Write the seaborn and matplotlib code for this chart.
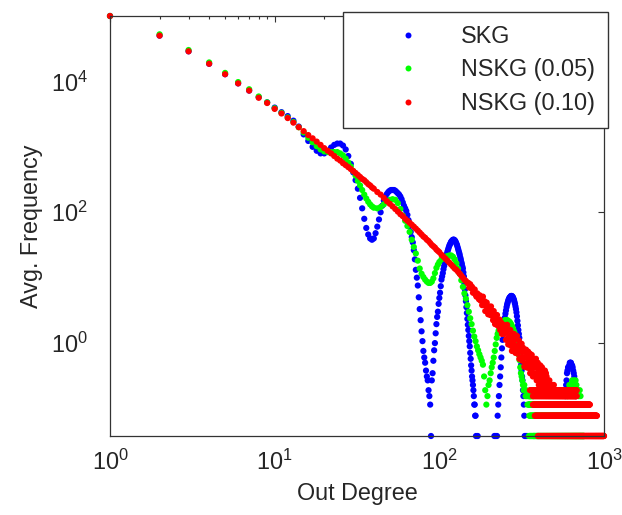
import numpy as np
import pandas as pd
import matplotlib
matplotlib.use("Agg")
import matplotlib.pyplot as plt
import seaborn as sns
from matplotlib.lines import Line2D
from matplotlib.ticker import FixedLocator, LogLocator, NullLocator, NullFormatter, LogFormatterSciNotation

# ---------------- data (degree, log10 of avg. frequency) ----------------
series_names = ["SKG", "NSKG (0.05)", "NSKG (0.10)"]
series_colors = ["#0000ff", "#00ff00", "#ff0000"]

# SKG
skg_deg = (list(range(1, 168)) + [171, 216, 220] + list(range(224, 331, 2)) + [335, 341]
           + [580, 583, 586, 589, 592, 596, 600, 605, 610, 615, 620, 625, 630,
              635, 640, 645, 650, 655, 660, 664, 668, 671, 674, 678, 683])
skg_log = [
    5.00, 4.70, 4.46, 4.27, 4.11, 3.97, 3.86, 3.76, 3.68, 3.60,
    3.53, 3.47, 3.40, 3.31, 3.19, 3.09, 3.00, 2.94, 2.90, 2.90,
    2.94, 2.99, 3.03, 3.05, 3.05, 3.02, 2.96, 2.86, 2.74, 2.61,
    2.49, 2.36, 2.22, 2.06, 1.90, 1.76, 1.66, 1.60, 1.58, 1.60,
    1.68, 1.78, 1.89, 2.00, 2.10, 2.18, 2.24, 2.28, 2.31, 2.33,
    2.34, 2.34, 2.34, 2.33, 2.31, 2.29, 2.27, 2.24, 2.20, 2.15,
    2.10, 2.06, 2.02, 1.96, 1.88, 1.79, 1.70, 1.62, 1.54, 1.42,
    1.28, 1.12, 1.00, 0.88, 0.70, 0.52, 0.35, 0.18, 0.03, -0.12,
    -0.22, -0.30, -0.42, -0.51, -0.57, -0.72, -0.81, -0.94, -1.42, -0.57,
    -0.46, -0.27, -0.11, 0.00, 0.15, 0.29, 0.40, 0.48, 0.60, 0.69,
    0.77, 0.87, 0.97, 1.02, 1.07, 1.13, 1.18, 1.23, 1.27, 1.32,
    1.36, 1.40, 1.43, 1.46, 1.49, 1.51, 1.53, 1.55, 1.56, 1.57,
    1.58, 1.58, 1.58, 1.57, 1.56, 1.54, 1.52, 1.50, 1.47, 1.44,
    1.41, 1.38, 1.35, 1.31, 1.28, 1.24, 1.21, 1.17, 1.14, 1.08,
    1.02, 0.92, 0.82, 0.73, 0.64, 0.55, 0.46, 0.37, 0.28, 0.20,
    0.11, 0.03, -0.05, -0.15, -0.24, -0.34, -0.42, -0.51, -0.57, -0.64,
    -0.72, -0.81, -0.94, -0.94, -1.11, -1.11, -1.42,
    -1.42, -1.42, -1.42,
    -1.42, -1.11, -0.94, -0.81, -0.64, -0.51, -0.37, -0.22, -0.08, 0.05,
    0.15, 0.24, 0.32, 0.39, 0.45, 0.50, 0.55, 0.59, 0.62, 0.65,
    0.67, 0.69, 0.70, 0.71, 0.72, 0.72, 0.72, 0.71, 0.70, 0.68,
    0.66, 0.63, 0.60, 0.56, 0.52, 0.47, 0.41, 0.34, 0.27, 0.20,
    0.14, 0.08, 0.00, -0.12, -0.24, -0.33, -0.42, -0.51, -0.57, -0.72,
    -0.81, -0.94, -1.11, -1.42,
    -1.42, -1.42,
    -0.94, -0.81, -0.72, -0.64, -0.57, -0.46, -0.42, -0.37, -0.37, -0.34,
    -0.30, -0.30, -0.30, -0.34, -0.34, -0.37, -0.42, -0.46, -0.51, -0.57,
    -0.64, -0.72, -0.81, -0.94, -1.11,
]

# NSKG (0.05)
nskg05_deg = (list(range(1, 41)) + list(range(42, 101, 2)) + list(range(103, 398, 3))
              + [600, 608, 616, 624, 632, 640, 648, 656, 664, 672, 680, 688, 696, 704, 712, 720])
nskg05_log = [
    5.00, 4.72, 4.48, 4.29, 4.13, 3.99, 3.88, 3.77, 3.68, 3.59,
    3.52, 3.45, 3.38, 3.30, 3.22, 3.14, 3.07, 3.01, 2.96, 2.93,
    2.92, 2.92, 2.92, 2.92, 2.90, 2.87, 2.82, 2.76, 2.70, 2.63,
    2.56, 2.48, 2.41, 2.34, 2.27, 2.21, 2.16, 2.12, 2.09, 2.07,
    2.06, 2.08, 2.12, 2.16, 2.19, 2.20, 2.19, 2.14, 2.05, 1.95,
    1.87, 1.79, 1.70, 1.58, 1.47, 1.37, 1.26, 1.14, 1.06, 1.01,
    0.97, 0.94, 0.92, 0.92, 0.94, 0.99, 1.07, 1.15, 1.20, 1.24,
    1.28, 1.30, 1.32, 1.33, 1.34, 1.34, 1.32, 1.28, 1.22, 1.14,
    1.06, 0.96, 0.86, 0.76, 0.68, 0.58, 0.48, 0.38, 0.29, 0.19,
    0.10, 0.03, -0.05, -0.11, -0.17, -0.22, -0.27, -0.33, -0.51, -0.72,
    -0.94, -0.81, -0.64, -0.57, -0.46, -0.37, -0.30, -0.22, -0.12, -0.02,
    0.08, 0.14, 0.19, 0.23, 0.26, 0.29, 0.31, 0.32, 0.34, 0.35,
    0.35, 0.35, 0.35, 0.34, 0.33, 0.32, 0.30, 0.28, 0.25, 0.22,
    0.19, 0.16, 0.12, 0.09, 0.04, -0.03, -0.10, -0.18, -0.26, -0.37,
    -0.46, -0.51, -0.57, -0.64, -0.72, -0.64, -0.72, -0.81, -0.72, -0.81,
    -0.94, -0.81, -0.94, -0.81, -0.94, -0.81, -1.11, -0.94, -1.11, -0.94,
    -1.42, -1.11, -1.42, -0.94, -1.11, -1.42, -1.11, -1.42, -1.42,
    -0.81, -0.72, -0.64, -0.72, -0.64, -0.57, -0.64, -0.57, -0.64, -0.57,
    -0.64, -0.72, -0.72, -0.81, -0.72, -0.81,
]
# flat rows of the sparse tail: (log10 level, first degree, last degree)
nskg05_rows = [(-1.42, 350, 760), (-1.11, 352, 720), (-0.94, 350, 700), (-0.81, 350, 372)]

# NSKG (0.10)
nskg10_deg = (list(range(1, 41)) + list(range(42, 101, 2)) + list(range(103, 149, 3))
              + list(range(150, 501, 2)))
nskg10_log = [
    5.00, 4.70, 4.46, 4.27, 4.11, 3.97, 3.86, 3.75, 3.67, 3.58,
    3.51, 3.44, 3.37, 3.30, 3.24, 3.18, 3.13, 3.08, 3.03, 2.98,
    2.94, 2.90, 2.86, 2.82, 2.79, 2.75, 2.72, 2.69, 2.66, 2.63,
    2.60, 2.57, 2.54, 2.51, 2.49, 2.46, 2.43, 2.41, 2.38, 2.36,
    2.31, 2.27, 2.22, 2.17, 2.13, 2.09, 2.05, 2.01, 1.97, 1.94,
    1.90, 1.87, 1.84, 1.81, 1.78, 1.75, 1.72, 1.69, 1.66, 1.63,
    1.61, 1.58, 1.56, 1.53, 1.50, 1.48, 1.46, 1.43, 1.41, 1.39,
    1.35, 1.32, 1.29, 1.26, 1.23, 1.20, 1.17, 1.14, 1.12, 1.09,
    1.06, 1.03, 1.00, 0.97, 0.95, 0.92,
    0.92, 0.85, 0.90, 0.84, 0.86, 0.77, 0.81, 0.82, 0.74, 0.71,
    0.76, 0.72, 0.67, 0.73, 0.65, 0.67,
    0.58, 0.71, 0.59, 0.64, 0.49, 0.57, 0.62, 0.49, 0.44, 0.56,
    0.51, 0.43, 0.56, 0.42, 0.48, 0.35, 0.49, 0.39, 0.29, 0.42,
    0.36, 0.43, 0.27, 0.35, 0.26, 0.36, 0.20, 0.29, 0.31, 0.14,
    0.27, 0.20, 0.28, 0.14, 0.19,
    0.25, 0.05, 0.18, 0.28, 0.07, -0.02, 0.21, 0.11, 0.03, 0.20,
    -0.04, 0.10, -0.12, 0.14, 0.02, -0.07, 0.14, -0.04, 0.05, -0.15,
    0.07, -0.06, 0.11, -0.16, -0.04, -0.14, 0.04, -0.24, -0.06, -0.04,
    -0.24, -0.12, -0.01, -0.21, -0.27, -0.07, -0.22, -0.13, -0.36, -0.11,
    -0.22, -0.31, -0.10, -0.37, -0.20, -0.18, -0.33, -0.13, -0.38, -0.26,
    -0.34, -0.16, -0.46, -0.24, -0.30, -0.42, -0.18, -0.37, -0.27, -0.51,
    -0.30, -0.24, -0.46, -0.37, -0.30, -0.51, -0.37, -0.24, -0.51, -0.57,
    -0.34, -0.46, -0.30, -0.57, -0.42, -0.64, -0.37, -0.46, -0.51, -0.34,
    -0.57, -0.42, -0.64, -0.46, -0.37, -0.57, -0.72, -0.46, -0.51, -0.42,
    -0.64, -0.51, -0.64, -0.42, -0.72, -0.57, -0.46, -0.64, -0.51, -0.72,
    -0.64, -0.72, -0.57, -0.72, -0.64, -0.72, -0.72, -0.57, -0.72, -0.64,
    -0.72, -0.72, -0.64, -0.72, -0.72, -0.64, -0.72, -0.72, -0.64, -0.72,
    -0.72, -0.72, -0.64, -0.72, -0.72,
]
nskg10_rows = [(-0.72, 355, 684), (-0.81, 370, 684), (-0.94, 370, 821),
               (-1.11, 380, 906), (-1.42, 397, 1000)]

x_ticks = [1, 10, 100, 1000]
y_ticks = [1e0, 1e2, 1e4]


def expand_rows(rows):
    d, v = [], []
    for level, start, end in rows:
        for x in range(start, end + 1, 3):
            d.append(x)
            v.append(level)
    return d, v


frames = []
for name, deg, lg, rows in [
    (series_names[0], skg_deg, skg_log, []),
    (series_names[1], nskg05_deg, nskg05_log, nskg05_rows),
    (series_names[2], nskg10_deg, nskg10_log, nskg10_rows),
]:
    rd, rv = expand_rows(rows)
    d = list(deg) + rd
    v = list(lg) + rv
    frames.append(pd.DataFrame({"degree": d, "freq": np.power(10.0, v), "series": name}))
df = pd.concat(frames, ignore_index=True)

# ---------------- plot ----------------
sns.set_style("white")
plt.rcParams["font.family"] = ["Liberation Sans", "DejaVu Sans"]
plt.rcParams["mathtext.fontset"] = "custom"
plt.rcParams["mathtext.rm"] = "Liberation Sans"
plt.rcParams["mathtext.it"] = "Liberation Sans"

W, H = 622, 515
fig = plt.figure(figsize=(W / 100, H / 100), dpi=100)
ax = fig.add_axes([110 / W, 1 - 436 / H, (604 - 110) / W, (436 - 16) / H])

sns.scatterplot(data=df, x="degree", y="freq", hue="series",
                palette=dict(zip(series_names, series_colors)),
                s=20, linewidth=0, ax=ax, legend=False)
for coll in ax.collections:
    coll.set_clip_on(False)

ax.set_xscale("log")
ax.set_yscale("log")
ax.set_xlim(1, 1000)
ax.set_ylim(10 ** -1.42, 1e5)

ax.xaxis.set_major_locator(FixedLocator(x_ticks))
ax.xaxis.set_minor_locator(LogLocator(base=10, subs=np.arange(2, 10)))
ax.xaxis.set_minor_formatter(NullFormatter())
ax.xaxis.set_major_formatter(LogFormatterSciNotation())
ax.yaxis.set_major_locator(FixedLocator(y_ticks))
ax.yaxis.set_minor_locator(NullLocator())
ax.yaxis.set_major_formatter(LogFormatterSciNotation())

text_color = "#262626"
fs = 16.8
ax.tick_params(which="both", direction="in", top=True, right=True,
               colors="#333333", labelcolor=text_color, labelsize=fs, width=0.8)
ax.tick_params(which="major", length=4)
ax.tick_params(which="minor", length=2.5)
ax.tick_params(axis="x", which="major", pad=10)
ax.tick_params(axis="y", which="major", pad=16)

for sp in ax.spines.values():
    sp.set_color("#333333")
    sp.set_linewidth(0.9)

ax.set_xlabel("Out Degree", fontsize=fs, color=text_color, labelpad=5)
ax.set_ylabel("Avg. Frequency", fontsize=fs, color=text_color, labelpad=6)

handles = [Line2D([0], [0], marker="o", linestyle="none", markersize=4.3,
                  markerfacecolor=c, markeredgewidth=0) for c in series_colors]
leg = ax.legend(handles, series_names, loc="upper left",
                bbox_to_anchor=(343 / W, 1 - 12 / H), bbox_transform=fig.transFigure,
                fontsize=fs, frameon=True, fancybox=False, framealpha=1,
                edgecolor="#333333", borderpad=0.55, labelspacing=0.45,
                handlelength=4.5, handletextpad=0.0, borderaxespad=0)
leg.get_frame().set_linewidth(1.0)
leg.set_zorder(5)
for t in leg.get_texts():
    t.set_color(text_color)

fig.savefig("out.png", dpi=100, facecolor="white")
